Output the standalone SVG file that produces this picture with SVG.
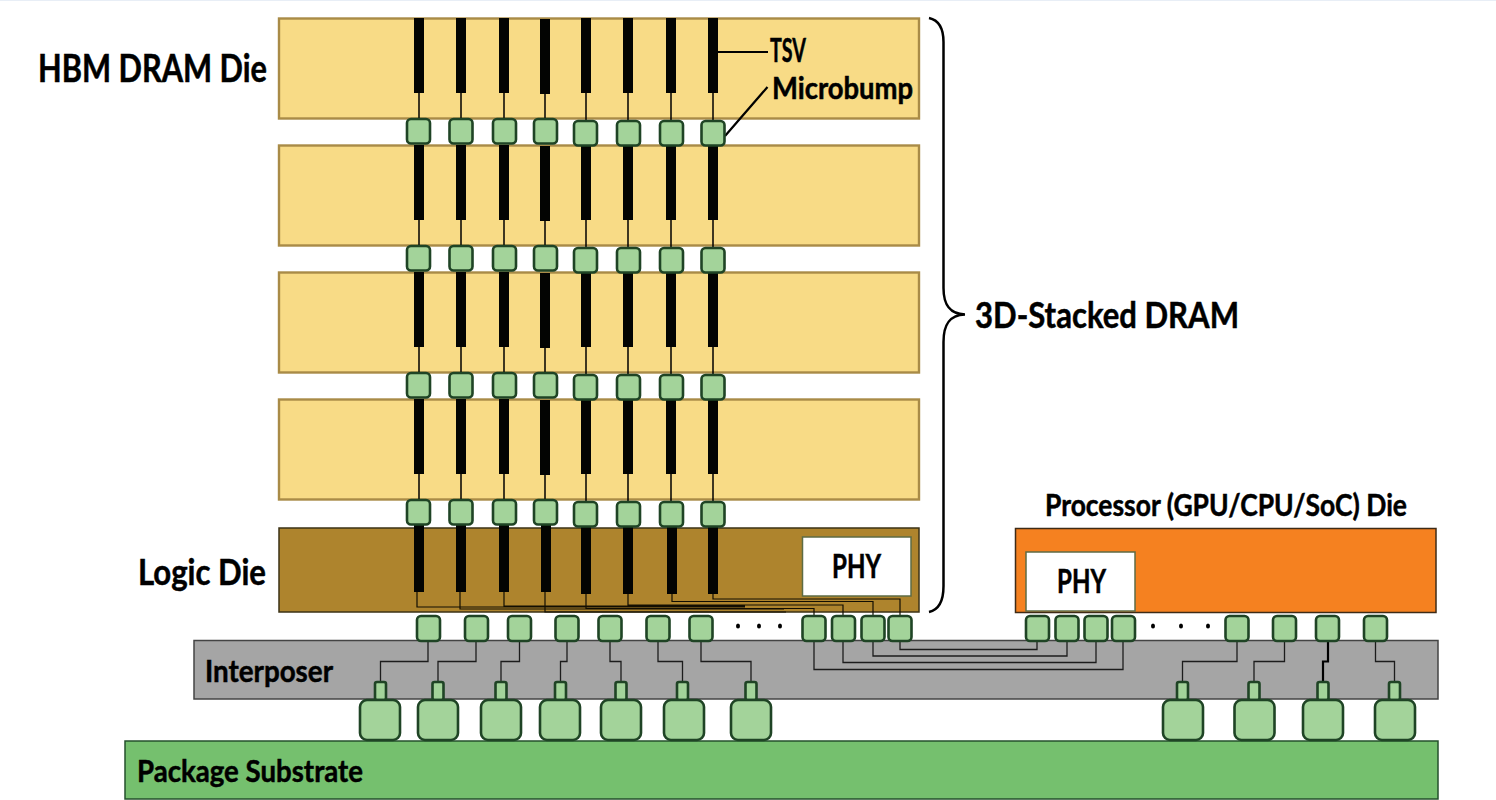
<svg xmlns="http://www.w3.org/2000/svg" xmlns:xlink="http://www.w3.org/1999/xlink" width="1496" height="800" viewBox="0 0 1496 800">
<style>
.die{fill:#f8db86;stroke:#a98b47;stroke-width:2.400}
.tsv{fill:#030402}
.tw{fill:none;stroke:#000;stroke-width:1.500}
.w{fill:none;stroke:#120e02;stroke-width:1.200}
.iw{fill:none;stroke:#1c1c1c;stroke-width:1.300}
.b{fill:#a3d39a;stroke:#1f4425;stroke-width:2.600}
text{font-family:Lato,"Liberation Sans",sans-serif;font-weight:700;fill:#000;stroke:#000;stroke-width:.5}
</style>
<defs>
<g id="tsvs">
<path class="tw" d="M419 19V118M461 19V118M504 19V118M545 19V118M586 19V120M628 19V120M671 19V120M713 19V120"/>
<path class="tsv" d="M414 18h10v75h-10zM456 18h10v75h-10zM499 18h10v75h-10zM540 19h10v75h-10zM581 18h10v75h-10zM623 18h10v75h-10zM666 18h10v75h-10zM708 18h10v75h-10z"/>
</g>
<g id="mb">
<rect class="b" x="407" y="119" width="23" height="24.500" rx="4"/>
<rect class="b" x="449.500" y="119" width="23" height="24.500" rx="4"/>
<rect class="b" x="493" y="119" width="23" height="24.500" rx="4"/>
<rect class="b" x="534" y="119" width="23" height="24.500" rx="4"/>
<rect class="b" x="574" y="121" width="23" height="24.500" rx="4"/>
<rect class="b" x="617" y="121" width="23" height="24.500" rx="4"/>
<rect class="b" x="660" y="121" width="23" height="24.500" rx="4"/>
<rect class="b" x="701.500" y="121" width="23" height="24.500" rx="4"/>
</g>
</defs>
<rect width="1496" height="1" fill="#e8eef6"/>
<g id="dram-die-1"><rect class="die" x="279" y="18.500" width="640" height="100"/></g>
<g id="dram-die-2"><rect class="die" x="279" y="145.500" width="640" height="100"/></g>
<g id="dram-die-3"><rect class="die" x="279" y="272.500" width="640" height="100"/></g>
<g id="dram-die-4"><rect class="die" x="279" y="399.500" width="640" height="100"/></g>
<g id="logic-die"><rect x="279" y="528" width="640" height="84" fill="#ae842d" stroke="#3b3216" stroke-width="1.500"/>
<rect x="802.500" y="537" width="108.500" height="59" fill="#fff" stroke="#5d6b44" stroke-width="1.500"/>
<text x="832" y="578" font-size="31.500" textLength="49" lengthAdjust="spacingAndGlyphs">PHY</text></g>
<g id="processor-die"><rect x="1015.500" y="528.500" width="420.500" height="84" fill="#f58120" stroke="#3e2b16" stroke-width="1.500"/>
<rect x="1026" y="552" width="109" height="59" fill="#fff" stroke="#5d6b44" stroke-width="1.500"/>
<text x="1057" y="593" font-size="31.500" textLength="49" lengthAdjust="spacingAndGlyphs">PHY</text></g>
<g id="interposer"><rect x="194" y="640.500" width="1244" height="58.500" fill="#a5a5a5" stroke="#444" stroke-width="1.500"/></g>
<g id="substrate"><rect x="125" y="741" width="1313" height="58" fill="#75c06e" stroke="#24502c" stroke-width="1.500"/></g>
<g id="connectors">
<use xlink:href="#tsvs"/><use xlink:href="#tsvs" y="127"/><use xlink:href="#tsvs" y="254"/><use xlink:href="#tsvs" y="381"/>
<path class="tsv" d="M414 525h10v67h-10zM456 525h10v67h-10zM499 525h10v67h-10zM541 525h10v67h-10zM581 525h10v69h-10zM623 525h10v69h-10zM667 525h10v69h-10zM708 525h10v69h-10z"/>
<path class="w" d="M417 592V607H745M460 592V609H784M504 592V606H745M545 592V612H786M586 594V608.500H814V616M628 594V605H843V616M672 594V601.500H873V616M713 594V599H900V616"/>
<path class="iw" d="M428 640V661.500H380.500V682M476 640V661.500H438V682M519.500 640V661.500H501V682M567 640V661.500H560.500V682M610 640V661.500H621V682M658 640V661.500H682.500V682M701 640V661.500H751V682"/>
<path class="iw" d="M900 640V649.500H1037V640M873 640V656H1067V640M843 640V662.500H1096V640M814 640V669.500H1123V640"/>
<path class="iw" d="M1237 640V661.500H1182.500V682M1284.500 640V661.500H1254V682M1375.500 640V661.500H1394.500V682"/>
<path fill="none" stroke="#000" stroke-width="2.200" d="M1328 640V661.500H1323V682"/>
<path d="M738 626m-2 0a2 2.500 0 1 0 4 0a2 2.500 0 1 0-4 0M759 626m-2 0a2 2.500 0 1 0 4 0a2 2.500 0 1 0-4 0M780 626m-2 0a2 2.500 0 1 0 4 0a2 2.500 0 1 0-4 0M1153 626m-2 0a2 2.500 0 1 0 4 0a2 2.500 0 1 0-4 0M1181 626m-2 0a2 2.500 0 1 0 4 0a2 2.500 0 1 0-4 0M1208 626m-2 0a2 2.500 0 1 0 4 0a2 2.500 0 1 0-4 0"/>
<path fill="none" stroke="#000" stroke-width="2.200" d="M718 52H768M725 136L767.500 87"/>
<path fill="none" stroke="#000" stroke-width="2.500" d="M929 18C938 20 943.500 28 943.500 42V288C943.500 304 949 314 965 314.500C949 315 943.500 325 943.500 342V586C943.500 602 938 610 929 612"/>
</g>
<g id="microbumps">
<use xlink:href="#mb"/><use xlink:href="#mb" y="127"/><use xlink:href="#mb" y="254"/><use xlink:href="#mb" y="381"/>
</g>
<g id="bumps-top">
<rect class="b" x="417" y="616" width="23" height="25" rx="4"/><rect class="b" x="465" y="616" width="23" height="25" rx="4"/><rect class="b" x="508" y="616" width="23" height="25" rx="4"/><rect class="b" x="555.500" y="616" width="23" height="25" rx="4"/><rect class="b" x="598.500" y="616" width="23" height="25" rx="4"/><rect class="b" x="646.500" y="616" width="23" height="25" rx="4"/><rect class="b" x="689.500" y="616" width="23" height="25" rx="4"/>
<rect class="b" x="802.500" y="616" width="23" height="25" rx="4"/><rect class="b" x="832" y="616" width="23" height="25" rx="4"/><rect class="b" x="861.500" y="616" width="23" height="25" rx="4"/><rect class="b" x="888.500" y="616" width="23" height="25" rx="4"/>
<rect class="b" x="1026" y="616" width="23" height="25" rx="4"/><rect class="b" x="1055.500" y="616" width="23" height="25" rx="4"/><rect class="b" x="1084.500" y="616" width="23" height="25" rx="4"/><rect class="b" x="1112" y="616" width="23" height="25" rx="4"/>
<rect class="b" x="1225.500" y="616" width="23" height="25" rx="4"/><rect class="b" x="1273" y="616" width="23" height="25" rx="4"/><rect class="b" x="1316" y="616" width="23" height="25" rx="4"/><rect class="b" x="1364" y="616" width="23" height="25" rx="4"/>
</g>
<g id="bumps-small">
<rect class="b" x="375" y="682" width="11" height="18" rx="2"/><rect class="b" x="432.500" y="682" width="11" height="18" rx="2"/><rect class="b" x="495.500" y="682" width="11" height="18" rx="2"/><rect class="b" x="555" y="682" width="11" height="18" rx="2"/><rect class="b" x="615.500" y="682" width="11" height="18" rx="2"/><rect class="b" x="677" y="682" width="11" height="18" rx="2"/><rect class="b" x="745.500" y="682" width="11" height="18" rx="2"/>
<rect class="b" x="1177" y="682" width="11" height="18" rx="2"/><rect class="b" x="1248.500" y="682" width="11" height="18" rx="2"/><rect class="b" x="1317.500" y="682" width="11" height="18" rx="2"/><rect class="b" x="1389" y="682" width="11" height="18" rx="2"/>
</g>
<g id="bumps-large">
<rect class="b" x="360" y="700" width="40" height="40" rx="7"/><rect class="b" x="418" y="700" width="40" height="40" rx="7"/><rect class="b" x="481" y="700" width="40" height="40" rx="7"/><rect class="b" x="540" y="700" width="40" height="40" rx="7"/><rect class="b" x="601" y="700" width="40" height="40" rx="7"/><rect class="b" x="664" y="700" width="40" height="40" rx="7"/><rect class="b" x="731" y="700" width="40" height="40" rx="7"/>
<rect class="b" x="1163" y="700" width="40" height="40" rx="7"/><rect class="b" x="1234.500" y="700" width="40" height="40" rx="7"/><rect class="b" x="1303" y="700" width="40" height="40" rx="7"/><rect class="b" x="1375" y="700" width="40" height="40" rx="7"/>
</g>
<g id="labels">
<text x="38" y="82" font-size="37.500" textLength="229" lengthAdjust="spacingAndGlyphs">HBM DRAM Die</text>
<text x="138" y="584.500" font-size="37" textLength="128" lengthAdjust="spacingAndGlyphs">Logic Die</text>
<text x="770" y="62" font-size="32" textLength="36" lengthAdjust="spacingAndGlyphs">TSV</text>
<text x="772" y="98.500" font-size="30" textLength="141" lengthAdjust="spacingAndGlyphs">Microbump</text>
<text x="975" y="328" font-size="37" textLength="264" lengthAdjust="spacingAndGlyphs">3D-Stacked DRAM</text>
<text x="1045" y="515.500" font-size="31" textLength="362" lengthAdjust="spacingAndGlyphs">Processor (GPU/CPU/SoC) Die</text>
<text x="205" y="681.500" font-size="31" textLength="128" lengthAdjust="spacingAndGlyphs">Interposer</text>
<text x="137" y="781.500" font-size="31" textLength="226" lengthAdjust="spacingAndGlyphs">Package Substrate</text>
</g>
</svg>
